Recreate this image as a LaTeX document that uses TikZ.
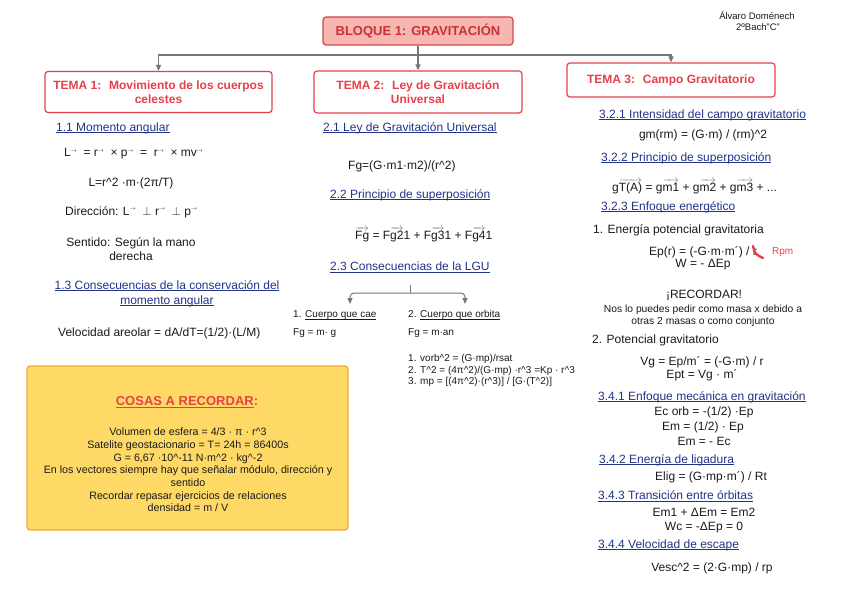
\documentclass[tikz,border=0pt]{standalone}
\usepackage{fontspec}
\setmainfont{Liberation Sans}
\usepackage{graphicx}
\usetikzlibrary{arrows.meta,positioning}
\definecolor{ink}{HTML}{1A1A1A}
\definecolor{navy}{HTML}{22338A}
\definecolor{rose}{HTML}{E8404B}
\definecolor{wine}{HTML}{C8313C}
\definecolor{blush}{HTML}{F8B6B1}
\definecolor{gold}{HTML}{FFD966}
\definecolor{amber}{HTML}{F5A63A}
\definecolor{lead}{HTML}{767676}
\newcommand{\pw}{\textasciicircum}
\newcommand{\uln}[1]{\setbox0\hbox{#1}\rlap{\rule[-2pt]{\wd0}{0.7pt}}\box0}
\newcommand{\vecm}{\raisebox{.75ex}{\scalebox{.5}{$\rightarrow$}}}
\newcommand{\ovec}[1]{\ensuremath{{\color{lead}\overrightarrow{\mbox{\color{ink}#1}}}}}

\begin{document}
\begin{tikzpicture}[x=1pt,y=-1pt,>={Triangle[length=6pt,width=5pt]},
  txt/.style={inner sep=0pt,text=ink,font=\fontsize{12}{14}\selectfont},
  sml/.style={inner sep=0pt,text=ink,font=\fontsize{10}{12.6}\selectfont},
  sub/.style={inner sep=0pt,anchor=west,text=navy,font=\fontsize{12}{15}\selectfont},
  tema/.style={draw=rose,line width=1.2pt,rounded corners=3pt,fill=white,text=rose,align=center,font=\bfseries\fontsize{12}{14}\selectfont},
  link/.style={draw=lead,line width=1.2pt}]
\useasboundingbox[fill=white] (0,0) rectangle (848,599);

% cabecera
\node[draw=wine!90,fill=blush,line width=1.2pt,rounded corners=3pt,minimum width=190,minimum height=28,text=wine,font=\bfseries\fontsize{13}{15}\selectfont] (hdr) at (418,31) {BLOQUE 1: GRAVITACIÓN};
\node[inner sep=0pt,text=ink,font=\fontsize{9.5}{11}\selectfont] (who) at (757,15) {Álvaro Doménech};
\node[inner sep=0pt,text=ink,font=\fontsize{9.5}{11}\selectfont] (cls) at (758,27) {2ºBach"C"};
\node[tema,minimum width=227,minimum height=41] (t1) at (158.5,92) {TEMA 1:~ Movimiento de los cuerpos\\celestes};
\node[tema,minimum width=208,minimum height=42] (t2) at (418,92) {TEMA 2:~ Ley de Gravitación\\Universal};
\node[tema,minimum width=208,minimum height=34] (t3) at (671,80) {TEMA 3:~ Campo Gravitatorio};
\coordinate (bus) at (418,55);
\draw[link,->] (hdr.south) -- (t2.north);
\draw[link,->] (bus) -| (t1.north);
\draw[link,->] (bus) -| (t3.north);

% tema 1
\node[sub] (s11) at (56,128) {\uln{1.1 Momento angular}};
\node[txt,anchor=west] (lmom) at (64,154) {L\vecm~ = r\vecm~ × p\vecm~ = ~r\vecm~ × mv\vecm};
\node[txt] (lval) at (131,183) {L=r\pw2 ·m·(2π/T)};
\node[txt,anchor=west] (dir) at (65,212) {Dirección: L\vecm~ $\perp$ r\vecm~ $\perp$ p\vecm};
\node[txt,align=center] (sent) at (131,249.5) {Sentido: Según la mano\\derecha};
\node[sub,anchor=center,align=center] (s13) at (167,293.5) {\uln{1.3 Consecuencias de la conservación del}\\\uln{momento angular}};
\node[txt,anchor=west] (areo) at (58,333) {Velocidad areolar = dA/dT=(1/2)·(L/M)};

% cosas a recordar
\node[draw=amber,fill=gold,line width=1.2pt,rounded corners=3pt,minimum width=321,minimum height=164] (memo) at (187.5,448) {};
\node[inner sep=0pt,text=rose,font=\bfseries\fontsize{13}{15}\selectfont] (memot) at (187,402) {\uln{COSAS A RECORDAR}:};
\node[sml,align=center,font=\fontsize{10.7}{12.7}\selectfont] (memol) at (188,470) {Volumen de esfera = 4/3 · π · r\pw3\\Satelite geostacionario = T= 24h = 86400s\\G = 6,67 ·10\pw-11 N·m\pw2 · kg\pw-2\\En los vectores siempre hay que señalar módulo, dirección y\\sentido\\Recordar repasar ejercicios de relaciones\\densidad = m / V};

% tema 2
\node[sub] (s21) at (323,128) {\uln{2.1 Ley de Gravitación Universal}};
\node[txt,anchor=west] (lgu) at (348,166) {Fg=(G·m1·m2)/(r\pw2)};
\node[sub] (s22) at (330,195) {\uln{2.2 Principio de superposición}};
\node[txt,anchor=base west] (fsum) at (355,239) {\ovec{Fg} = F\ovec{g2}1 + F\ovec{g3}1 + F\ovec{g4}1};
\node[sub] (s23) at (330,267) {\uln{2.3 Consecuencias de la LGU}};
\coordinate (fork) at (410,285);
\coordinate (forkm) at (410,293);
\coordinate (tocae) at (350,304);
\coordinate (toorb) at (465,304);
\draw[link,line width=1pt] (fork) -- (forkm);
\draw[link,line width=1pt,rounded corners=4pt,->] (forkm) -| (tocae);
\draw[link,line width=1pt,rounded corners=4pt,->] (forkm) -| (toorb);
\node[sml,anchor=west] (cae) at (293,315) {1. \uln{Cuerpo que cae}};
\node[sml,anchor=west] (orb) at (408,315) {2. \uln{Cuerpo que orbita}};
\node[sml,anchor=west] (fcae) at (293,333) {Fg = m· g};
\node[sml,anchor=west] (forb) at (408,333) {Fg = m·an};
\node[sml,anchor=west,align=left,font=\fontsize{10}{11.6}\selectfont] (kep) at (408,370.5) {1. vorb\pw2 = (G·mp)/rsat\\2. T\pw2 = (4π\pw2)/(G·mp) ·r\pw3 =Kp · r\pw3\\3. mp = [(4π\pw2)·(r\pw3)] / [G·(T\pw2)]};

% tema 3
\node[sub] (s321) at (599,115) {\uln{3.2.1 Intensidad del campo gravitatorio}};
\node[txt] (gm) at (703,135) {gm(rm) = (G·m) / (rm)\pw2};
\node[sub] (s322) at (601,158) {\uln{3.2.2 Principio de superposición}};
\node[txt,anchor=base west] (gsum) at (612,191) {g\ovec{T(A)} = g\ovec{m1} + g\ovec{m2} + g\ovec{m3} + ...};
\node[sub] (s323) at (601,207) {\uln{3.2.3 Enfoque energético}};
\node[txt,anchor=west] (epg) at (593,230) {1. Energía potencial gravitatoria};
\node[txt,anchor=west] (ep) at (649,252) {Ep(r) = (-G·m·m´) / r};
\draw[rose,line width=2.4pt,line cap=round] (753,246) .. controls (755,254) .. (763,258);
\node[sml,text=rose,anchor=west] (rpm) at (772,252) {Rpm};
\node[txt] (work) at (703,265) {W = - ΔEp};
\node[txt] (rec) at (704,295) {¡RECORDAR!};
\node[sml,align=center,font=\fontsize{10.3}{12.6}\selectfont] (recl) at (703,316) {Nos lo puedes pedir como masa x debido a\\otras 2 masas o como conjunto};
\node[txt,anchor=west] (pot) at (592,340) {2. Potencial gravitatorio};
\node[txt] (vg) at (702,362) {Vg = Ep/m´ = (-G·m) / r};
\node[txt] (ept) at (702,375) {Ept = Vg · m´};
\node[sub] (s341) at (598,397) {\uln{3.4.1 Enfoque mecánica en gravitación}};
\node[txt] (ecorb) at (704,412) {Ec orb = -(1/2) ·Ep};
\node[txt] (emh) at (703,427) {Em = (1/2) · Ep};
\node[txt] (emc) at (704,441) {Em = - Ec};
\node[sub] (s342) at (599,460) {\uln{3.4.2 Energía de ligadura}};
\node[txt] (elig) at (711,477) {Elig = (G·mp·m´) / Rt};
\node[sub] (s343) at (598,496) {\uln{3.4.3 Transición entre órbitas}};
\node[txt] (em12) at (704,512) {Em1 + ΔEm = Em2};
\node[txt] (wc) at (704,528) {Wc = -ΔEp = 0};
\node[sub] (s344) at (598,545) {\uln{3.4.4 Velocidad de escape}};
\node[txt] (vesc) at (712,568) {Vesc\pw2 = (2·G·mp) / rp};
\end{tikzpicture}
\end{document}
